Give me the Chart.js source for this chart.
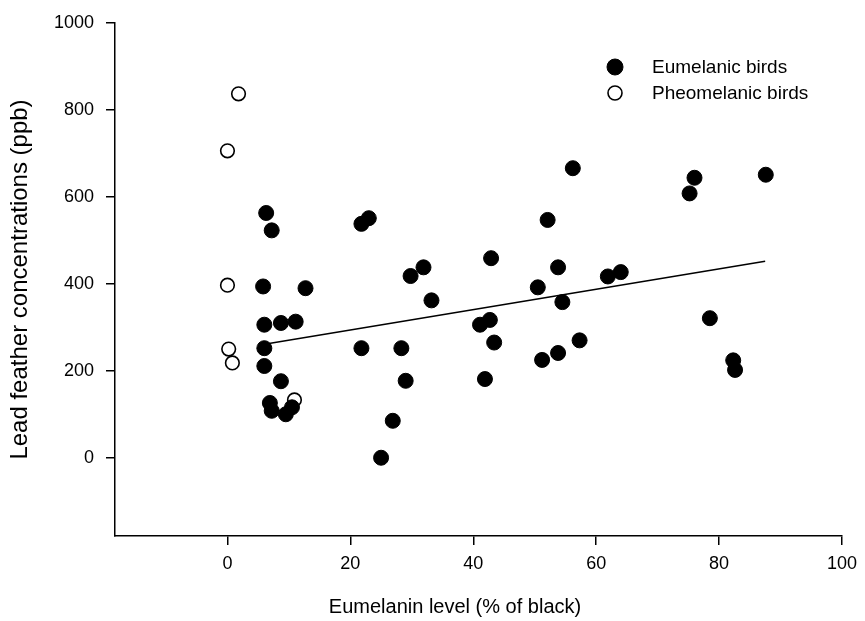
<!DOCTYPE html>
<html>
<head>
<meta charset="utf-8">
<script src="https://cdn.jsdelivr.net/npm/chart.js@4.4.1/dist/chart.umd.min.js"></script>
<style>
  html, body { margin: 0; padding: 0; background: #fff; }
  canvas { display: block; }
</style>
</head>
<body>
<canvas id="myChart" width="865" height="621"></canvas>
<script>
// values
const eumelanicX = [6.3, 7.2, 5.8, 12.7, 6.0, 8.7, 11.1, 6.0, 6.0, 8.7, 6.9, 7.2, 9.5, 10.5,
    21.8, 23.0, 29.8, 31.9, 33.2, 21.8, 28.3, 29.0, 26.9, 25.0,
    56.2, 76.0, 75.2, 87.6, 52.1, 42.9, 53.8, 50.5, 54.5, 61.9, 64.0, 41.1, 42.7, 43.4, 41.9, 51.2, 53.8, 57.3, 78.5, 82.3, 82.6]
const eumelanicY = [563, 523, 394, 390, 306, 310, 313, 252, 211, 176, 126, 108, 100, 116,
    538, 551, 418, 438, 362, 252, 252, 177, 85, 0,
    666, 644, 608, 651, 547, 459, 438, 392, 358, 417, 427, 306, 317, 265, 181, 225, 241, 270, 321, 224, 202]
const pheomelanicX = [1.8, 0, 0, 0.2, 0.8, 10.9]
const pheomelanicY = [837, 706, 397, 250, 218, 133]
const fitX = [6, 87.5]
const fitY = [261, 452]
const xTicks = [0, 20, 40, 60, 80, 100]
const yTicks = [0, 200, 400, 600, 800, 1000]
const xTitle = 'Eumelanin level (% of black)'
const yTitle = 'Lead feather concentrations (ppb)'

const FONT = "'Liberation Sans', Arial, sans-serif"

const toPoints = (xs, ys) => xs.map((x, i) => ({ x: x, y: ys[i] }))

// legend inside the plot (top right) and the x title, which sits left of centre
const extras = {
    id: 'extras',
    afterDraw(chart) {
        const ctx = chart.ctx
        ctx.save()
        ctx.font = '19px ' + FONT
        ctx.textBaseline = 'middle'
        ;[0, 1].forEach(i => {
            const ds = chart.data.datasets[i]
            const y = 67 + i * 26
            ctx.beginPath()
            ctx.arc(615, y, i == 0 ? 8 : 7, 0, Math.PI * 2)
            ctx.fillStyle = ds.backgroundColor
            ctx.fill()
            ctx.lineWidth = ds.borderWidth
            ctx.strokeStyle = '#000'
            ctx.stroke()
            ctx.fillStyle = '#000'
            ctx.fillText(ds.label, 652, y + 1)
        })
        ctx.font = '20px ' + FONT
        ctx.textAlign = 'center'
        ctx.fillText(xTitle, 455, 607)
        ctx.restore()
    }
}

var ctx = document.getElementById('myChart')
var myChart = new Chart(ctx, {
    type: 'scatter',
    data: {
        datasets: [{
            label: 'Eumelanic birds',
            data: toPoints(eumelanicX, eumelanicY),
            backgroundColor: '#000',
            borderColor: '#000',
            borderWidth: 1,
            pointRadius: 7.5
        }, {
            label: 'Pheomelanic birds',
            data: toPoints(pheomelanicX, pheomelanicY),
            backgroundColor: '#fff',
            borderColor: '#000',
            borderWidth: 1.6,
            pointRadius: 6.8
        }, {
            type: 'line',
            label: 'fit',
            data: toPoints(fitX, fitY),
            borderColor: '#000',
            borderWidth: 1.5,
            pointRadius: 0,
            fill: false
        }]
    },
    options: {
        responsive: false,
        animation: false,
        layout: { padding: { left: 4, top: 23, right: 19, bottom: 0 } },
        plugins: {
            legend: { display: false },
            tooltip: { enabled: false }
        },
        scales: {
            x: {
                type: 'linear',
                min: -18.3,
                max: 100,
                afterBuildTicks: s => { s.ticks = xTicks.map(v => ({ value: v })) },
                afterFit: s => { s.height = 85 },
                grid: { drawOnChartArea: false, drawTicks: true, tickLength: 9, color: '#000', lineWidth: 1.5 },
                border: { display: true, color: '#000', width: 1.5 },
                ticks: { color: '#000', font: { family: FONT, size: 18 }, padding: 8, maxRotation: 0, callback: v => String(v) }
            },
            y: {
                type: 'linear',
                min: -180,
                max: 1000,
                afterBuildTicks: s => { s.ticks = yTicks.map(v => ({ value: v })) },
                afterFit: s => { s.width = 111 },
                grid: { drawOnChartArea: false, drawTicks: true, tickLength: 9, color: '#000', lineWidth: 1.5 },
                border: { display: true, color: '#000', width: 1.5 },
                ticks: { color: '#000', font: { family: FONT, size: 18 }, padding: 12, callback: v => String(v) },
                title: {
                    display: true, text: yTitle, color: '#000',
                    font: { family: FONT, size: 24 }, padding: { top: 2, bottom: 0 }
                }
            }
        }
    },
    plugins: [extras]
})
</script>
</body>
</html>
